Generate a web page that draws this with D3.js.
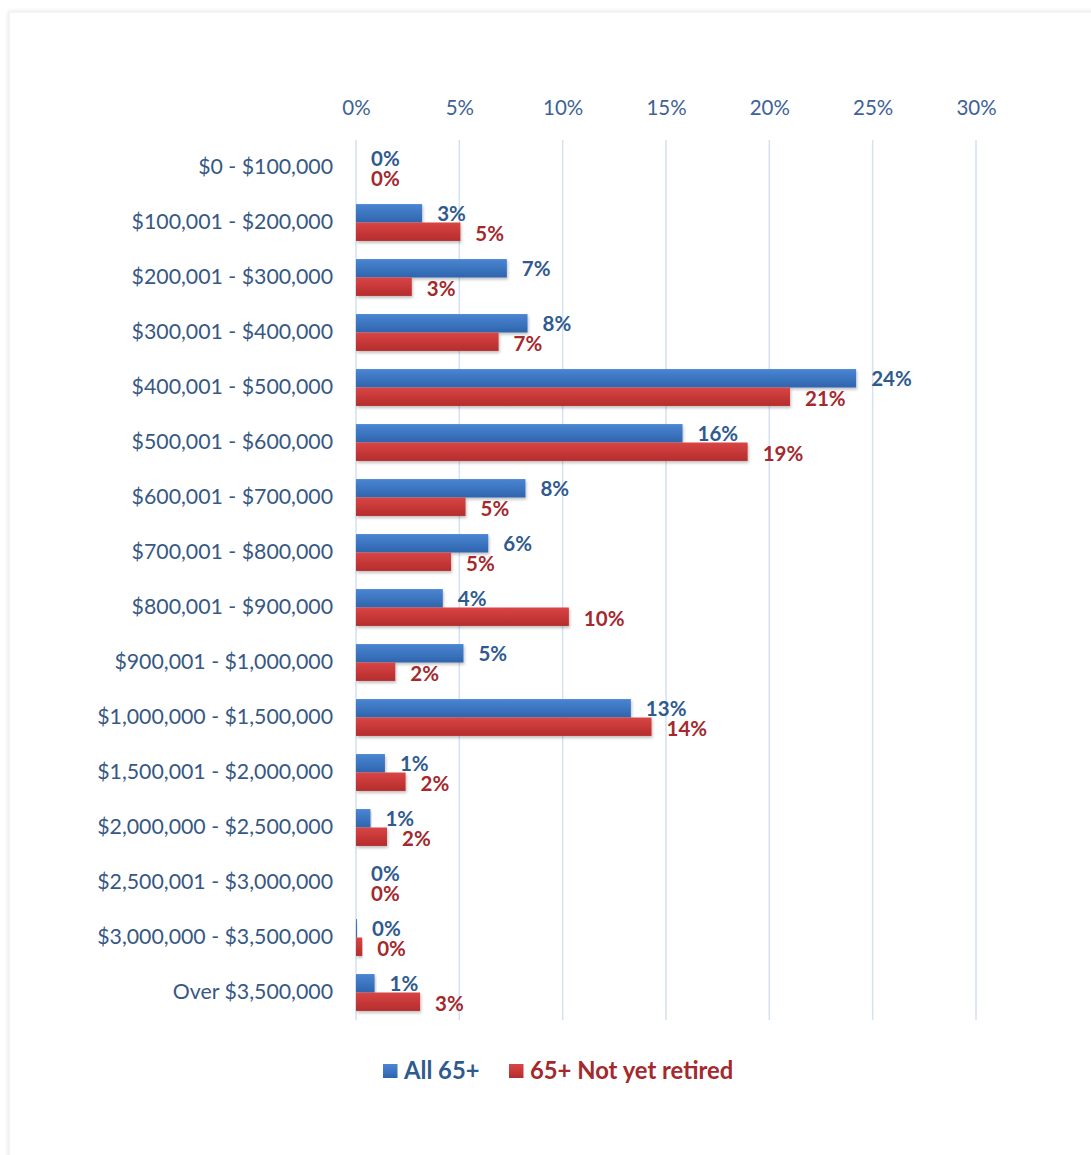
<!DOCTYPE html>
<html>
<head>
<meta charset="utf-8">
<script src="https://cdn.jsdelivr.net/npm/d3@7"></script>
<style>
  html, body { margin: 0; padding: 0; background: #ffffff; }
  svg { display: block; font-family: Lato, "Open Sans", sans-serif; }
</style>
</head>
<body>
<svg id="chart" width="1091" height="1155"></svg>
<script>
// Asset brackets (rows, top to bottom)
const categories = [
  "$0 - $100,000", "$100,001 - $200,000", "$200,001 - $300,000", "$300,001 - $400,000",
  "$400,001 - $500,000", "$500,001 - $600,000", "$600,001 - $700,000", "$700,001 - $800,000",
  "$800,001 - $900,000", "$900,001 - $1,000,000", "$1,000,000 - $1,500,000", "$1,500,001 - $2,000,000",
  "$2,000,000 - $2,500,000", "$2,500,001 - $3,000,000", "$3,000,000 - $3,500,000", "Over $3,500,000"
];
// Share of respondents (%)
const all65 = [0, 3.2, 7.3, 8.3, 24.2, 15.8, 8.2, 6.4, 4.2, 5.2, 13.3, 1.4, 0.7, 0, 0.05, 0.9];
const notRetired = [0, 5.05, 2.7, 6.9, 21.0, 18.95, 5.3, 4.6, 10.3, 1.9, 14.3, 2.4, 1.5, 0, 0.3, 3.1];
const seriesNames = ["All 65+", "65+ Not yet retired"];
const tickValues = [0, 5, 10, 15, 20, 25, 30];

const svg = d3.select("#chart");
const defs = svg.append("defs");

// frame with a soft shadow
const fShadow = defs.append("filter").attr("id", "frameShadow")
  .attr("x", "-5%").attr("y", "-5%").attr("width", "110%").attr("height", "110%");
fShadow.append("feDropShadow").attr("dx", 0).attr("dy", 0).attr("stdDeviation", 2)
  .attr("flood-color", "#000").attr("flood-opacity", 0.12);
svg.append("rect").attr("x", 9).attr("y", 12).attr("width", 1120).attr("height", 1180)
  .attr("fill", "#fff").attr("stroke", "#ececec").attr("filter", "url(#frameShadow)");

// bar shadow
const bShadow = defs.append("filter").attr("id", "barShadow")
  .attr("x", "-5%").attr("y", "-20%").attr("width", "115%").attr("height", "160%");
bShadow.append("feDropShadow").attr("dx", 1).attr("dy", 2).attr("stdDeviation", 1.5)
  .attr("flood-color", "#000").attr("flood-opacity", 0.25);

const fills = [
  { id: "gBlue", top: "#4a86d3", bottom: "#2f64ad", label: "#2f5a90" },
  { id: "gRed", top: "#d94545", bottom: "#b52c2c", label: "#a3292d" }
];
fills.forEach(f => {
  const g = defs.append("linearGradient").attr("id", f.id)
    .attr("x1", 0).attr("y1", 0).attr("x2", 0).attr("y2", 1);
  g.append("stop").attr("offset", "0%").attr("stop-color", f.top);
  g.append("stop").attr("offset", "100%").attr("stop-color", f.bottom);
});

const x = d3.scaleLinear().domain([0, 30]).range([356, 976]);
const y = d3.scaleBand().domain(categories).range([140, 1020]).paddingInner(0.33).paddingOuter(0.165);
const ySub = d3.scaleBand().domain([0, 1]).range([0, y.bandwidth()]);

// vertical gridlines
svg.append("g").selectAll("line").data(tickValues).join("line")
  .attr("x1", d => x(d)).attr("x2", d => x(d))
  .attr("y1", 140).attr("y2", 1020)
  .attr("stroke", "#d3e1f2").attr("stroke-width", 1.5);

// top axis labels
const axis = svg.append("g").attr("transform", "translate(0,108)")
  .call(d3.axisTop(x).tickValues(tickValues).tickFormat(d => d + "%").tickSize(0).tickPadding(0));
axis.select(".domain").remove();
axis.selectAll("text")
  .attr("dy", "0.35em")
  .attr("font-family", "Lato, sans-serif")
  .attr("font-size", 20.5)
  .attr("fill", "#3d6296");

// category labels
const cat = svg.append("g").attr("transform", "translate(333,0)")
  .call(d3.axisLeft(y).tickSize(0).tickPadding(0));
cat.select(".domain").remove();
cat.selectAll("text")
  .attr("font-family", "Lato, sans-serif")
  .attr("font-size", 21.3)
  .attr("fill", "#375884");

const rows = categories.map((c, i) => ({ c, vals: [all65[i], notRetired[i]] }));

const rowG = svg.append("g").selectAll("g").data(rows).join("g")
  .attr("transform", d => `translate(0,${y(d.c)})`);

rowG.selectAll("rect").data(d => d.vals.map((v, k) => ({ v, k }))).join("rect")
  .attr("x", x(0))
  .attr("y", d => ySub(d.k))
  .attr("width", d => x(d.v) - x(0))
  .attr("height", ySub.bandwidth())
  .attr("fill", d => `url(#${fills[d.k].id})`)
  .attr("filter", "url(#barShadow)");

rowG.selectAll("text").data(d => d.vals.map((v, k) => ({ v, k }))).join("text")
  .attr("x", d => x(d.v) + 15)
  .attr("y", d => ySub(d.k) + ySub.bandwidth() / 2 + (d.k === 0 ? 1 : 2.5))
  .attr("dy", "0.35em")
  .attr("font-family", "Lato, sans-serif")
  .attr("font-weight", 700)
  .attr("font-size", 20.5)
  .attr("fill", d => fills[d.k].label)
  .text(d => Math.round(d.v) + "%");

// legend
const legendItems = [
  { name: seriesNames[0], k: 0, x: 383 },
  { name: seriesNames[1], k: 1, x: 509 }
];
const lg = svg.append("g").selectAll("g").data(legendItems).join("g")
  .attr("transform", d => `translate(${d.x},1071)`);
lg.append("rect").attr("x", 0).attr("y", -7).attr("width", 14.5).attr("height", 14)
  .attr("fill", d => `url(#${fills[d.k].id})`);
lg.append("text").attr("x", 21).attr("dy", "0.35em")
  .attr("font-family", "Lato, sans-serif").attr("font-weight", 700).attr("font-size", 23.8)
  .attr("fill", d => fills[d.k].label)
  .text(d => d.name);
</script>
</body>
</html>
